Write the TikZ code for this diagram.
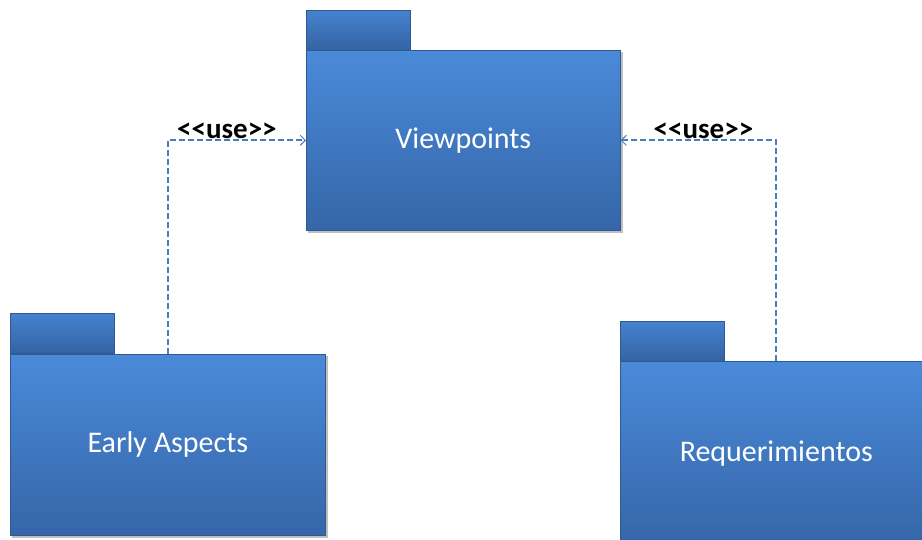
\documentclass[tikz,border=0pt]{standalone}
\usepackage{fontspec}
\setmainfont{Carlito}
\newfontfamily\uselblfont{Carlito}[Ligatures=TeXOff]
\usetikzlibrary{arrows.meta}
\definecolor{topblue}{HTML}{4A8AD9}
\definecolor{botblue}{HTML}{3566A8}
\definecolor{tabtop}{HTML}{4682CF}
\definecolor{tabbot}{HTML}{3463A2}
\definecolor{edgeblue}{HTML}{2E5A94}
\definecolor{lineblue}{HTML}{4A7EBB}
\tikzset{
  pkgbody/.style={rectangle, anchor=north west, top color=topblue, bottom color=botblue,
    draw=edgeblue, line width=0.6pt, text=white, font=\fontsize{30}{34}\selectfont,
    inner sep=0pt},
  pkgtab/.style={rectangle, anchor=north west, top color=tabtop, bottom color=tabbot,
    draw=edgeblue, line width=0.6pt, inner sep=0pt, minimum width=104pt, minimum height=40pt},
  shadowbox/.style={fill=black!25, draw=none},
  dep/.style={draw=lineblue, line width=2pt, dash pattern=on 6pt off 3pt,
    -{Straight Barb[length=5pt,width=10pt,line width=1pt]}},
  uselbl/.style={font=\uselblfont\bfseries\fontsize{29}{32}\selectfont, text=black, anchor=south, inner sep=0.5pt}
}
\begin{document}
\begin{tikzpicture}[x=1pt,y=-1pt]
\useasboundingbox (0,0) rectangle (922,540);
\begin{scope}
\clip (0,0) rectangle (922,540);
% shadows
\fill[shadowbox] (308,52) rectangle (623,233);
\fill[shadowbox] (12,356) rectangle (328,538);
\fill[shadowbox] (622,363) rectangle (935,548);
% tabs
\node[pkgtab] (vptab) at (306,10) {};
\node[pkgtab] (eatab) at (10,313) {};
\node[pkgtab] (rqtab) at (620,321) {};
% bodies
\node[pkgbody, minimum width=314pt, minimum height=180pt] (vp) at (306,50) {Viewpoints};
\node[pkgbody, minimum width=315pt, minimum height=181pt] (ea) at (10,354) {Early Aspects};
\node[pkgbody, minimum width=312pt, minimum height=184pt] (rq) at (620,361) {Requerimientos};
\end{scope}
% dependencies
\draw[dep] (ea.north) |- node[uselbl, pos=0.75, xshift=-10pt] {<<use>>} (vp.west);
\draw[dep] (rq.north) |- node[uselbl, pos=0.75, xshift=5pt] {<<use>>} (vp.east);
\end{tikzpicture}
\end{document}
